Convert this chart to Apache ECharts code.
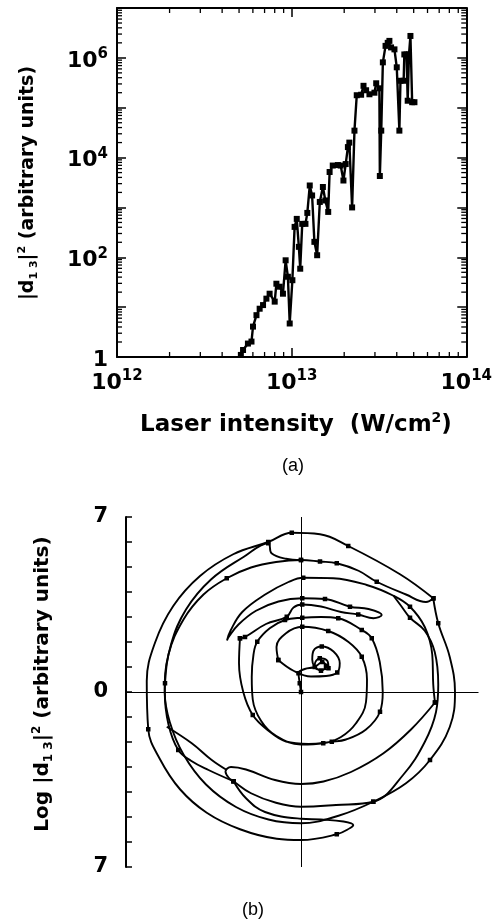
<!DOCTYPE html>
<html>
<head>
<meta charset="utf-8">
<script src="https://cdn.jsdelivr.net/npm/echarts@6/dist/echarts.min.js"></script>
<style>
  html, body { margin: 0; padding: 0; background: #fff; }
  #chart { width: 495px; height: 922px; }
</style>
</head>
<body>
<div id="chart"></div>
<script>
// ---- Panel (a): |d13|^2 versus laser intensity ----
const intensity = [
  5.12e12, 5.27e12, 5.62e12, 5.89e12, 6.01e12, 6.29e12, 6.56e12, 6.86e12, 7.17e12, 7.48e12,
  8.0e12, 8.18e12, 8.54e12, 8.92e12, 9.24e12, 9.52e12, 9.75e12, 1.01e13, 1.04e13, 1.07e13,
  1.10e13, 1.12e13, 1.15e13, 1.20e13, 1.23e13, 1.27e13, 1.31e13, 1.35e13, 1.40e13, 1.45e13,
  1.51e13, 1.56e13, 1.62e13, 1.65e13, 1.72e13, 1.84e13, 1.91e13, 1.98e13, 2.04e13, 2.10e13,
  2.14e13, 2.22e13, 2.29e13, 2.36e13, 2.50e13, 2.58e13, 2.67e13, 2.79e13, 2.98e13, 3.05e13,
  3.18e13, 3.20e13, 3.26e13, 3.33e13, 3.45e13, 3.55e13, 3.63e13, 3.71e13, 3.88e13, 4.00e13,
  4.14e13, 4.20e13, 4.38e13, 4.42e13, 4.55e13, 4.62e13, 4.70e13, 4.79e13, 4.90e13, 5.05e13
];
const signal = [
  1.1, 1.38, 1.86, 2.04, 4.07, 6.9, 9.3, 11, 14.8, 18.6,
  12.9, 29.5, 25.7, 18.6, 87, 40.7, 4.7, 34.7, 407, 589,
  162, 59, 468, 468, 776, 2754, 1738, 204, 110, 1288,
  2570, 1380, 813, 5130, 6918, 7079, 6918, 3467, 7413, 16218,
  19950, 1000, 34674, 1.78e5, 1.82e5, 2.75e5, 2.24e5, 1.86e5, 2.0e5, 3.09e5,
  2.45e5, 4266, 3.47e4, 8.13e5, 1.74e6, 2.0e6, 2.19e6, 1.62e6, 1.48e6, 6.46e5,
  3.47e4, 3.47e5, 3.47e5, 1.17e6, 1.17e6, 1.38e5, 1.17e6, 2.75e6, 1.29e5, 1.29e5
];
// log-axis minor tick positions
const minorX = [2,3,4,5,6,7,8,9].map(k => k * 1e12).concat([2,3,4,5,6,7,8,9].map(k => k * 1e13));
const minorY = [];
for (let e = 0; e < 7; e++) for (let k = 2; k <= 9; k++) minorY.push(k * Math.pow(10, e));

// ---- Panel (b): phase-plane trajectory, [x, y, marked] ----
const spiralCore = [
  [0,0,1],[-0.05,0.35,1],[-0.1,0.75,1],[0.15,0.92,0],[0.55,1.0,1],[0.85,1.2,1],[1.0,1.05,1],
  [0.8,0.85,1],[0.55,1.1,0],[0.75,1.35,1],[1.05,1.25,0],[1.1,0.95,1],[0.7,0.9,0],[0.45,1.3,0],
  [0.5,1.65,0],[0.83,1.82,1],[1.3,1.62,0],[1.55,1.15,0],[1.45,0.78,1],[1.0,0.64,0],[0.4,0.62,0],
  [-0.3,0.85,0],[-0.91,1.28,1]
];
const innerTurns = [
  [-0.91,1.28,1],[-0.98,1.8,0],[-0.6,2.35,0],[0.05,2.61,1],[1.09,2.44,1],[1.9,2.0,0],[2.43,1.41,1],
  [2.64,0.5,0],[2.6,-0.4,0],[2.2,-1.25,0],[1.6,-1.8,0],[0.89,-2.05,1],[0,-2.1,0],[-1.0,-1.75,0],
  [-1.6,-1.15,0],[-1.93,-0.3,0],[-1.97,0.6,0],[-1.9,1.5,0],[-1.75,2.01,1],[-1.25,2.55,0],
  [-0.64,2.88,1],[0.05,2.97,1],[0.8,3.0,0],[1.49,2.95,1],[2.43,2.48,1],[2.83,2.15,1],[3.15,1.2,0],
  [3.27,0,0],[3.16,-0.79,1],[2.6,-1.5,0],[1.8,-1.9,0],[1.23,-1.99,1],[0.3,-2.08,0],[-0.6,-1.98,0],
  [-1.3,-1.55,0],[-1.93,-0.92,1],[-2.31,0,0],[-2.48,1.15,0],[-2.44,2.15,1]
];
const upperLoops = [
  [-2.44,2.15,1],[-2.24,2.2,1],[-1.4,2.72,0],[-0.57,3.01,1],[-0.3,3.38,0],[0.05,3.5,1],[0.8,3.42,0],
  [1.6,3.2,0],[2.29,3.1,1],[2.9,2.95,0],[3.23,3.08,0],[2.7,3.32,0],[1.96,3.41,1],[0.96,3.72,1],
  [0.05,3.75,1],[-0.9,3.62,0],[-1.8,3.25,0],[-2.5,2.7,0],[-2.88,2.22,0],[-2.96,2.06,0],
  [-2.82,2.45,0],[-2.35,3.2,0],[-1.4,3.92,0],[-0.5,4.4,0],[0.09,4.57,1],[1.29,4.55,0],
  [2.63,4.28,0],[3.7,3.85,0],[4.36,3.41,1],[4.95,2.6,0],[5.25,1.5,0],[5.29,0.3,0],[5.36,-0.42,1]
];
const lowerLoops = [
  [5.36,-0.42,1],[4.4,-1.5,0],[3.3,-2.45,0],[2.0,-3.2,0],[0.9,-3.58,0],[0,-3.68,0],[-1.04,-3.52,0],
  [-2.2,-3.1,0],[-2.8,-3.0,0],[-3.02,-3.18,0],[-2.9,-3.42,0],[-2.7,-3.57,1],[-2.0,-4.05,0],
  [-1.0,-4.43,0],[0,-4.59,0],[1.4,-4.52,0],[2.89,-4.39,1],[4.1,-3.3,0],[4.95,-2.0,0],[5.4,-0.8,0],
  [5.49,0.3,0],[5.35,1.6,0],[4.95,2.45,0],[4.36,2.97,1],[4.0,3.45,0],[3.7,3.85,0]
];
const leftBand = [
  [-2.7,-3.57,1],[-3.7,-3.12,0],[-4.4,-2.75,0],[-4.91,-2.32,1],[-5.3,-1.3,0],[-5.45,0,0],
  [-5.3,1.5,0],[-4.7,2.9,0],[-3.9,3.9,0],[-2.97,4.55,1],[-2.0,4.98,0],[-1.0,5.2,0],[0,5.28,1],
  [0.76,5.22,1],[1.43,5.15,1],[2.3,4.85,0],[3.03,4.41,1],[4.2,3.9,0],[5.0,3.6,0],[5.29,3.75,1]
];
const outerTurn = [
  [5.29,3.75,1],[3.96,4.71,0],[1.89,5.84,1],[0.76,6.31,0],[-0.37,6.37,1],[-1.31,6.0,1],
  [-2.71,5.51,0],[-4.04,4.64,0],[-5.11,3.44,0],[-5.84,1.97,0],[-6.17,0.44,0],[-6.11,-1.49,1],
  [-5.64,-2.69,0],[-4.84,-3.89,0],[-3.77,-4.83,0],[-2.44,-5.49,0],[-0.97,-5.87,0],[0,-5.92,0],
  [1.43,-5.69,1],[1.95,-5.45,0],[2.09,-5.32,0],[1.7,-5.18,0],[0.8,-5.1,0],[0,-5.07,0],
  [-1.44,-4.8,0],[-2.2,-4.25,0],[-2.7,-3.57,1]
];
const rightTurn = [
  [5.29,3.75,1],[5.49,2.75,1],[5.95,1.4,0],[6.16,0,0],[5.95,-1.4,0],[5.16,-2.72,1],[4.2,-3.65,0],
  [2.89,-4.39,1],[1.5,-4.95,0],[0,-5.25,0],[-1.3,-5.1,0],[-2.6,-4.6,0],[-3.8,-3.7,0],[-4.7,-2.5,0],
  [-5.25,-1.2,0],[-5.45,0,0],[-5.44,0.35,1],[-5.2,1.9,0],[-4.6,3.3,0],[-3.6,4.5,0],[-2.3,5.4,0],
  [-1.31,5.95,1],[-1.18,5.55,0],[-0.6,5.33,0],[0,5.28,1]
];
const branchStray = [
  [-5.37,-1.39,0],[-4.37,-2.05,0],[-3.57,-2.72,0],[-2.97,-3.12,0]
];
const trajectory = [spiralCore, innerTurns, upperLoops, lowerLoops, leftBand, outerTurn, rightTurn, branchStray];
const phaseTicks = { top: 7, mid: 0, bottom: -7 };

const F = '"Liberation Sans", Arial, Helvetica, sans-serif';
const FB = '"DejaVu Sans", "Liberation Sans", Arial, sans-serif';
const chart = echarts.init(document.getElementById('chart'), null, { renderer: 'canvas' });

// short log minor ticks on all four sides of panel (a)
function tickSeries(values, vertical) {
  return {
    type: 'custom',
    xAxisIndex: 0, yAxisIndex: 0,
    silent: true,
    clip: false,
    data: values.map(v => vertical ? [v, 1] : [1e12, v]),
    renderItem(params, api) {
      const style = { stroke: '#000', lineWidth: 1.3 };
      if (vertical) {
        const v = api.value(0);
        const a = api.coord([v, 1]), b = api.coord([v, 1e7]);
        return { type: 'group', children: [
          { type: 'line', shape: { x1: a[0], y1: a[1], x2: a[0], y2: a[1] - 5 }, style },
          { type: 'line', shape: { x1: b[0], y1: b[1], x2: b[0], y2: b[1] + 5 }, style }
        ]};
      }
      const v = api.value(1);
      const a = api.coord([1e12, v]), b = api.coord([1e14, v]);
      return { type: 'group', children: [
        { type: 'line', shape: { x1: a[0], y1: a[1], x2: a[0] + 5, y2: a[1] }, style },
        { type: 'line', shape: { x1: b[0], y1: b[1], x2: b[0] - 5, y2: b[1] }, style }
      ]};
    }
  };
}

const powRich = {
  b: { fontFamily: FB, fontWeight: 'bold', fontSize: 22, lineHeight: 22, padding: [6, 0, 0, 0], color: '#000' },
  s: { fontFamily: FB, fontWeight: 'bold', fontSize: 15, lineHeight: 14, verticalAlign: 'top', color: '#000' }
};
function powLabel(v, everyOther) {
  const e = Math.round(Math.log10(v));
  if (everyOther && e % 2 !== 0) return '';
  if (e === 0) return '{b|1}';
  return '{b|10}{s|' + e + '}';
}

const frameAxis = { lineStyle: { color: '#000', width: 2 } };
const majorTick = { inside: true, length: 9, lineStyle: { color: '#000', width: 1.5 } };

const titleRich = (size) => ({
  n: { fontFamily: FB, fontWeight: 'bold', fontSize: size, lineHeight: size + 4, color: '#000' },
  sub: { fontFamily: FB, fontWeight: 'bold', fontSize: Math.round(size * 0.6), lineHeight: Math.round(size * 0.5), verticalAlign: 'bottom', color: '#000' },
  sup: { fontFamily: FB, fontWeight: 'bold', fontSize: Math.round(size * 0.6), lineHeight: Math.round(size * 0.5), verticalAlign: 'top', color: '#000' }
});

const option = {
  animation: false,
  backgroundColor: '#fff',
  grid: [
    { left: 117, top: 8, width: 350, height: 349 },
    { left: 126, top: 517, width: 352.5, height: 350 }
  ],
  xAxis: [
    { gridIndex: 0, type: 'log', min: 1e12, max: 1e14, position: 'bottom',
      axisLine: frameAxis, axisTick: majorTick, splitLine: { show: false },
      axisLabel: { formatter: v => powLabel(v, false), rich: powRich, margin: 12 } },
    { gridIndex: 0, type: 'log', min: 1e12, max: 1e14, position: 'top',
      axisLine: frameAxis, axisTick: majorTick, splitLine: { show: false }, axisLabel: { show: false } },
    { gridIndex: 1, type: 'value', min: -7, max: 7.1, show: false }
  ],
  yAxis: [
    { gridIndex: 0, type: 'log', min: 1, max: 1e7, position: 'left',
      axisLine: frameAxis, axisTick: majorTick, splitLine: { show: false },
      axisLabel: { formatter: v => powLabel(v, true), rich: powRich, margin: 9 } },
    { gridIndex: 0, type: 'log', min: 1, max: 1e7, position: 'right',
      axisLine: frameAxis, axisTick: majorTick, splitLine: { show: false }, axisLabel: { show: false } },
    { gridIndex: 1, type: 'value', min: -7, max: 7, interval: 1, position: 'left',
      axisLine: { show: true, onZero: false, lineStyle: { color: '#000', width: 2 } },
      axisTick: { inside: true, length: 6, lineStyle: { color: '#000', width: 1.5 } },
      splitLine: { show: false },
      axisLabel: { margin: 18, color: '#000', fontFamily: FB, fontWeight: 'bold', fontSize: 21,
        formatter: v => v === phaseTicks.top ? '7' : v === phaseTicks.bottom ? '7' : v === phaseTicks.mid ? '0' : '' } }
  ],
  series: [
    {
      type: 'line', xAxisIndex: 0, yAxisIndex: 0,
      data: intensity.map((x, i) => [x, signal[i]]),
      symbol: 'rect', symbolSize: 6, showAllSymbol: true,
      lineStyle: { color: '#000', width: 2.4 }, itemStyle: { color: '#000' }
    },
    tickSeries(minorX, true),
    tickSeries(minorY, false)
  ].concat(trajectory.map((stroke, idx) => ({
    type: 'line', xAxisIndex: 2, yAxisIndex: 2,
    smooth: 0.4,
    data: stroke.map(p => ({ value: [p[0], p[1]], symbol: p[2] ? 'rect' : 'none' })),
    symbol: 'rect', symbolSize: 4.5, showAllSymbol: true,
    lineStyle: { color: '#000', width: 1.9 }, itemStyle: { color: '#000' },
    markLine: idx === 0 ? {
      silent: true, symbol: ['none', 'none'], label: { show: false },
      lineStyle: { color: '#000', width: 1, type: 'solid' },
      data: [{ xAxis: 0 }, { yAxis: 0 }]
    } : undefined
  }))),
  graphic: [
    { type: 'text', x: 28, y: 183, rotation: Math.PI / 2,
      style: { text: '{n||d}{sub|1 3}{n||}{sup|2}{n| (arbitrary units)}', rich: titleRich(19),
        align: 'center', verticalAlign: 'middle' } },
    { type: 'text', x: 296, y: 425,
      style: { text: '{n|Laser intensity  (W/cm}{sup|2}{n|)}', rich: titleRich(23),
        align: 'center', verticalAlign: 'middle' } },
    { type: 'text', x: 293, y: 466,
      style: { text: '(a)', fontFamily: F, fontSize: 18, fill: '#000', align: 'center', verticalAlign: 'middle' } },
    { type: 'text', x: 43, y: 684, rotation: Math.PI / 2,
      style: { text: '{n|Log |d}{sub|1 3}{n||}{sup|2}{n| (arbitrary units)}', rich: titleRich(20),
        align: 'center', verticalAlign: 'middle' } },
    { type: 'text', x: 253, y: 910,
      style: { text: '(b)', fontFamily: F, fontSize: 18, fill: '#000', align: 'center', verticalAlign: 'middle' } }
  ]
};
chart.setOption(option);
</script>
</body>
</html>
